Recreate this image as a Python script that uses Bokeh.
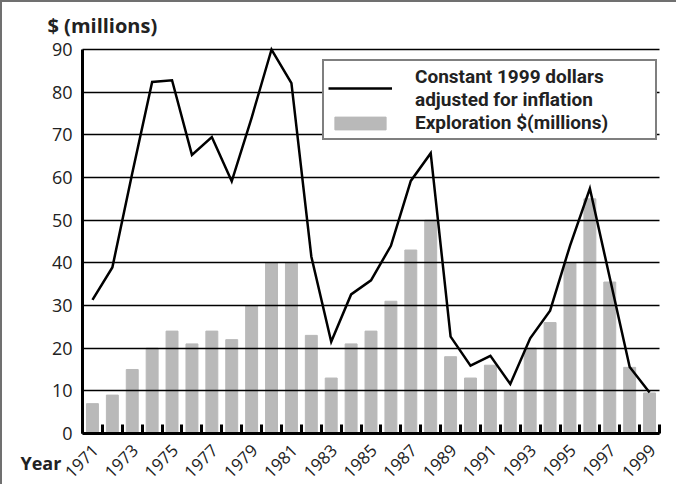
import math
from bokeh.plotting import figure
from bokeh.models import Range1d, FixedTicker, Legend, LegendItem, Label, NumeralTickFormatter
from bokeh.embed import file_html
from bokeh.resources import INLINE

years = list(range(1971, 2000))
exploration = [7, 9, 15, 20, 24, 21, 24, 22, 30, 40,
               40, 23, 13, 21, 24, 31, 43, 50, 18, 13,
               16, 10, 20, 26, 40, 55, 35.5, 15.5, 9.5]
constant_1999 = [31.3, 38.9, 61, 82.4, 82.8, 65.3, 69.5, 59.1, 74, 90,
                 82.1, 41.5, 21.5, 32.6, 35.9, 44, 59.2, 65.7, 22.7, 15.9,
                 18.2, 11.6, 22.3, 28.8, 44, 57.4, 36.5, 15.6, 9.6]
label_years = list(range(1971, 2000, 2))
boundaries = [y - 0.5 for y in years] + [years[-1] + 0.5]
y_ticks = list(range(0, 100, 10))

FONT = "Open Sans"
LEGEND_FONT = "Roboto"
X0, X1 = years[0] - 0.5, years[-1] + 0.5
Y0, Y1 = 0, 90
LABEL_NUDGE = 0.15  # rotated labels anchor slightly right of bar centre

p = figure(width=676, height=484,
           x_range=Range1d(1966.479, 2000.454),
           y_range=Range1d(-12.422, 101.016),
           output_backend="svg", toolbar_location=None,
           min_border=0)
p.outline_line_color = None
p.background_fill_color = "white"
p.border_fill_color = "white"
p.styles = {"border-top": "2px solid #707070", "border-left": "2px solid #707070"}

bars = p.vbar(x=years, top=exploration, width=0.6,
              fill_color="#b9b9b9", line_color="#b9b9b9", level="image")
line = p.line(years, constant_1999, line_width=2.5, line_color="black",
              line_join="miter")

# grid
p.xgrid.visible = False
p.ygrid.ticker = FixedTicker(ticks=y_ticks)
p.ygrid.grid_line_color = "black"
p.ygrid.grid_line_width = 1.6
p.ygrid.bounds = (Y0, Y1)
p.ygrid.cross_bounds = (X0, X1)

# y axis
yax = p.yaxis[0]
yax.fixed_location = X0
yax.bounds = (Y0, Y1)
yax.ticker = FixedTicker(ticks=y_ticks)
yax.axis_line_width = 3
yax.axis_line_color = "black"
yax.major_tick_line_color = None
yax.minor_tick_line_color = None
yax.major_label_standoff = 4
yax.major_label_text_font = FONT
yax.major_label_text_font_size = "18px"
yax.major_label_text_color = "#222222"

# x axis
xax = p.xaxis[0]
xax.fixed_location = Y0
xax.bounds = (X0, X1)
xax.ticker = FixedTicker(ticks=[y + LABEL_NUDGE for y in label_years],
                         minor_ticks=boundaries)
xax.formatter = NumeralTickFormatter(format="0")
xax.axis_line_width = 3
xax.axis_line_color = "black"
xax.major_tick_line_color = None
xax.minor_tick_line_color = "black"
xax.minor_tick_line_width = 3
xax.minor_tick_in = 9
xax.minor_tick_out = 0
xax.major_tick_in = 0
xax.major_tick_out = 0
xax.major_label_orientation = math.pi / 4
xax.major_label_standoff = 14
xax.major_label_text_font = FONT
xax.major_label_text_font_size = "17px"
xax.major_label_text_color = "#222222"

# axis titles
p.add_layout(Label(x=1968.74, y=95.6, text="$ (millions)",
                   text_font=FONT, text_font_size="20px",
                   text_font_style="bold", text_color="#222222",
                   text_baseline="alphabetic"))
p.add_layout(Label(x=1967.38, y=-6.8, text="Year",
                   text_font=FONT, text_font_size="18px",
                   text_font_style="bold", text_color="#222222",
                   text_baseline="alphabetic"))

legend = Legend(items=[
    LegendItem(label="Constant 1999 dollars\nadjusted for inflation", renderers=[line]),
    LegendItem(label="Exploration $(millions)", renderers=[bars]),
], location=(320, 346))
legend.label_text_font = LEGEND_FONT
legend.label_text_font_size = "19px"
legend.label_text_font_style = "bold"
legend.label_text_color = "#222222"
legend.glyph_width = 64
legend.glyph_height = 16
legend.label_standoff = 23
legend.label_width = 236
legend.label_height = 20
legend.padding = 4
legend.spacing = 0
legend.margin = 0
legend.border_line_color = "black"
legend.border_line_width = 2
legend.background_fill_color = "white"
legend.background_fill_alpha = 1.0
p.add_layout(legend, "center")

open("out.html", "w").write(file_html(p, INLINE))
